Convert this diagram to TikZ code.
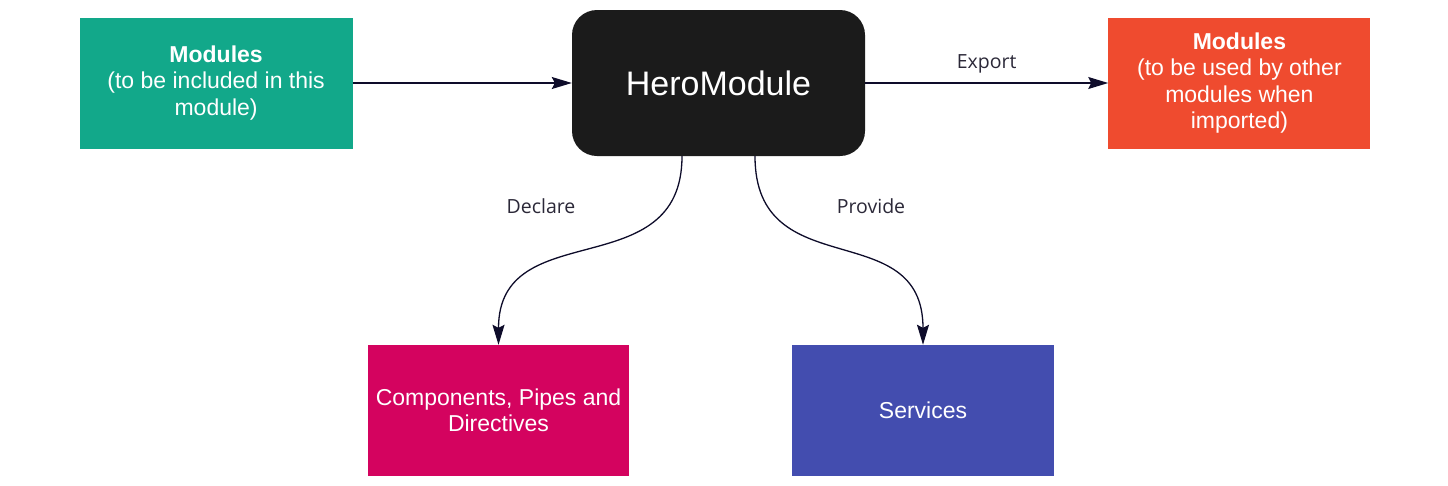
\documentclass[tikz,border=0pt]{standalone}
\usepackage{fontspec}
\setmainfont{Liberation Sans}
\newfontfamily\labelfont{Open Sans}
\usetikzlibrary{arrows.meta,positioning,calc}
\definecolor{modgreen}{HTML}{12A88A}
\definecolor{modred}{HTML}{EF4B2F}
\definecolor{modpink}{HTML}{D4035F}
\definecolor{modblue}{HTML}{434DAF}
\definecolor{heroblack}{HTML}{1B1B1B}
\definecolor{linknavy}{HTML}{0E0C2A}
\definecolor{labelgray}{HTML}{2B2838}

\begin{document}
\begin{tikzpicture}[
    x=1pt, y=-1pt,
    box/.style={rectangle, inner sep=0pt, align=center, text=white, minimum width=262pt, minimum height=131pt, font=\fontsize{23}{26.5}\selectfont},
    hero/.style={rectangle, rounded corners=25pt, fill=heroblack, text=white, inner sep=0pt, minimum width=293pt, minimum height=146pt, font=\fontsize{34}{40}\selectfont},
    link/.style={-{Stealth[length=20pt,width=12pt,inset=3pt]}, line width=1.3pt, draw=linknavy},
    linklabel/.style={text=labelgray, font=\labelfont\fontsize{19.5}{23}\selectfont}
  ]
    \useasboundingbox (0,0) rectangle (1448,485);
    \node[hero] (hero) at (718.5,83) {HeroModule};
    \node[box, fill=modgreen, minimum width=273pt, left=219pt of hero] (imports) {\textbf{Modules}\\(to be included in this\\module)};
    \node[box, fill=modred, right=243pt of hero] (exports) {\textbf{Modules}\\(to be used by other\\modules when\\imported)};
    \node[box, fill=modpink, minimum width=261pt] (declarations) at (498.5,410.5) {Components, Pipes and\\Directives};
    \node[box, fill=modblue] (providers) at (923,410.5) {Services};
    \draw[link] (imports) -- (hero);
    \draw[link] (hero) -- node[linklabel, above=6pt] {Export} (exports);
    \draw[link] ($(hero.south)+(-36.5,0)$) .. controls +(0,131) and +(0,-131) .. (declarations.north);
    \draw[link] ($(hero.south)+(36.5,0)$) .. controls +(0,131) and +(0,-131) .. (providers.north);
    \node[linklabel] (declarelabel) at (541,206) {Declare};
    \node[linklabel] (providelabel) at (871,206) {Provide};
  \end{tikzpicture}
\end{document}
